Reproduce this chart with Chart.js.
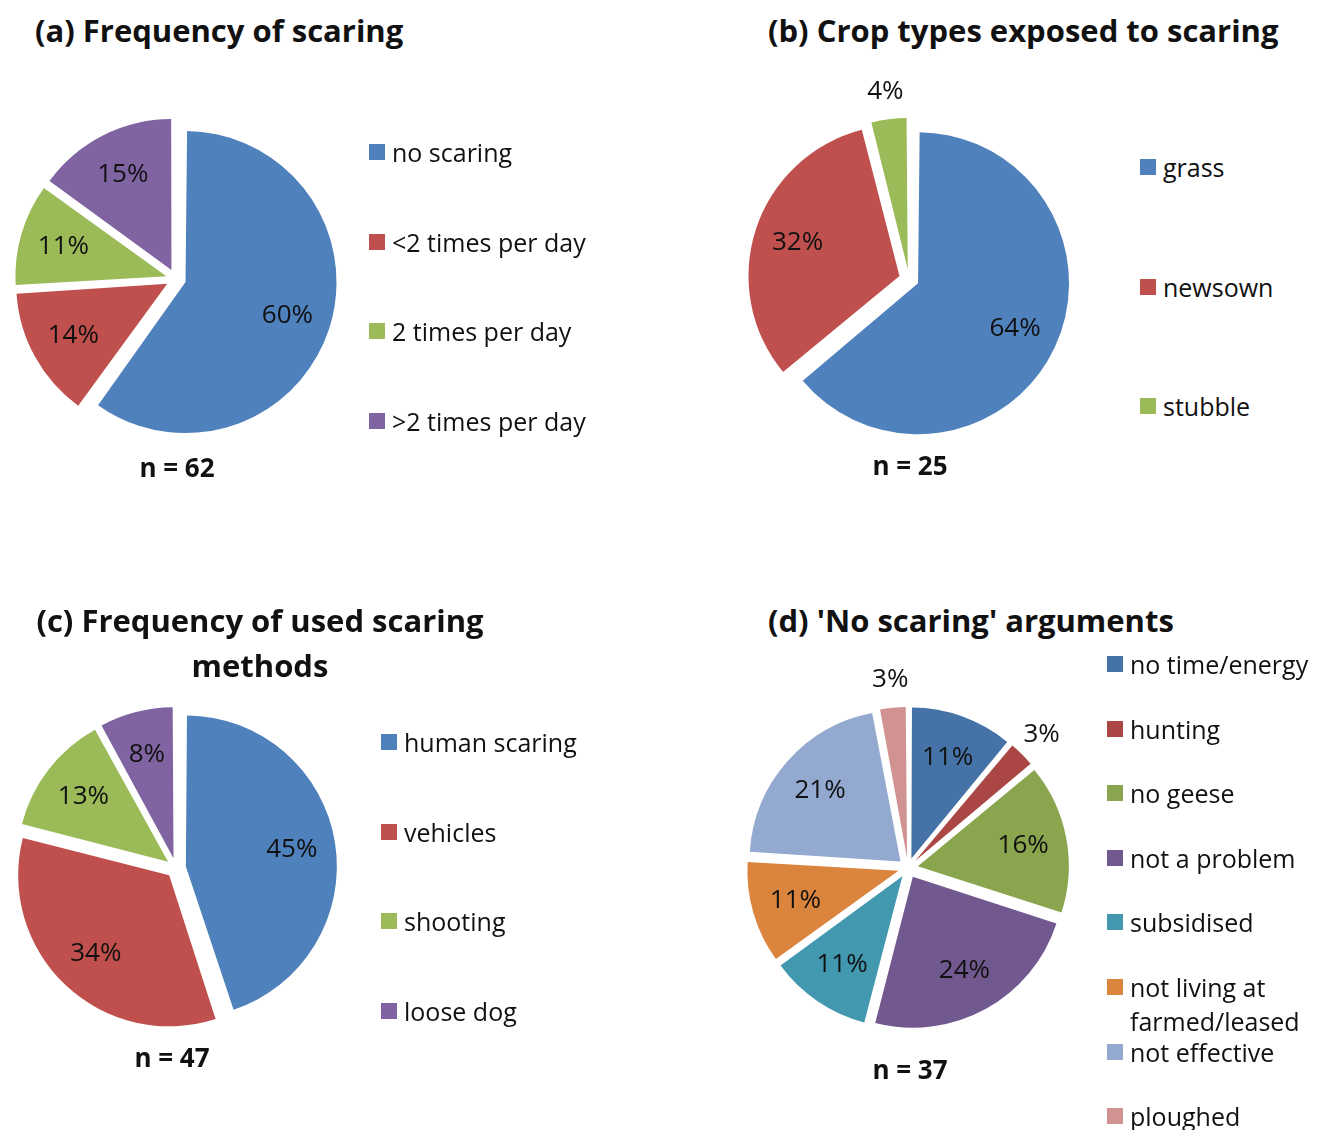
<!DOCTYPE html>
<html>
<head>
<meta charset="utf-8">
<script src="https://cdn.jsdelivr.net/npm/chart.js@4"></script>
<style>
html, body { margin: 0; padding: 0; background: #fff; }
body { width: 1330px; height: 1130px; overflow: hidden; position: relative;
       font-family: "Open Sans", Lato, sans-serif; color: #111; }
canvas { position: absolute; }
.title { position: absolute; font-weight: bold; font-size: 31px; line-height: 45px; white-space: nowrap; }
.n { position: absolute; font-weight: bold; font-size: 26px; width: 200px; text-align: center; line-height: 30px; }
.legend { position: absolute; }
.item { display: flex; align-items: flex-start; }
.box { width: 16px; height: 16px; margin-top: 9px; margin-right: 7px; flex: none; }
.item span { font-size: 25px; line-height: 34px; white-space: nowrap; }
</style>
</head>
<body>
<script>
const freqLabels = ['no scaring', '<2 times per day', '2 times per day', '>2 times per day'];
const freqValues = [60, 14, 11, 15];

const cropLabels = ['grass', 'newsown', 'stubble'];
const cropValues = [64, 32, 4];

const methodLabels = ['human scaring', 'vehicles', 'shooting', 'loose dog'];
const methodValues = [45, 34, 13, 8];

const argLabels = ['no time/energy', 'hunting', 'no geese', 'not a problem', 'subsidised',
    ['not living at', 'farmed/leased'], 'not effective', 'ploughed'];
const argValues = [11, 3, 16, 24, 11, 11, 21, 3];

const sampleSizes = [62, 25, 47, 37];

const officeColors = ['#4F81BD', '#C0504D', '#9BBB59', '#8064A2'];
const argColors = ['#4572A7', '#AA4643', '#89A54E', '#71588F', '#4198AF', '#DB843D', '#93A9CF', '#D19392'];

const EXPLODE = 10; // px each slice is pulled out (Chart.js v4 draws offset / 4)

// v4 also grows wide slices by the offset; shrink them back so all slices keep one radius
const evenExplode = {
    id: 'evenExplode',
    beforeDatasetsDraw(chart) {
        const meta = chart.getDatasetMeta(0);
        const R = meta.controller.outerRadius;
        meta.data.forEach(arc => {
            const c = arc.endAngle - arc.startAngle;
            arc.outerRadius = R - EXPLODE * (1 - Math.sin(Math.min(Math.PI, c)));
        });
    }
};

// percentage labels, small slices go outside
const pctLabels = {
    id: 'pctLabels',
    afterDatasetsDraw(chart) {
        const ctx = chart.ctx;
        const ds = chart.data.datasets[0];
        const meta = chart.getDatasetMeta(0);
        const R = meta.controller.outerRadius;
        const total = ds.data.reduce((a, b) => a + b, 0);
        ctx.save();
        ctx.font = '26px "Open Sans"';
        ctx.fillStyle = '#111';
        ctx.textAlign = 'center';
        ctx.textBaseline = 'middle';
        meta.data.forEach((arc, i) => {
            const mid = (arc.startAngle + arc.endAngle) / 2;
            const pct = Math.round(ds.data[i] / total * 100);
            const d = pct < 5 ? EXPLODE + R + 28 : EXPLODE + R * 0.71;
            ctx.fillText(pct + '%', arc.x + Math.cos(mid) * d, arc.y + Math.sin(mid) * d);
        });
        ctx.restore();
    }
};

function addText(cls, html, left, top, extra) {
    const el = document.createElement('div');
    el.className = cls;
    el.innerHTML = html;
    el.style.left = left + 'px';
    el.style.top = top + 'px';
    Object.assign(el.style, extra || {});
    document.body.appendChild(el);
}

function buildPanel(p) {
    const size = 420;
    const canvas = document.createElement('canvas');
    canvas.width = size;
    canvas.height = size;
    canvas.style.left = (p.cx - size / 2) + 'px';
    canvas.style.top = (p.cy - size / 2) + 'px';
    document.body.appendChild(canvas);

    new Chart(canvas.getContext('2d'), {
        type: 'pie',
        data: {
            labels: p.labels,
            datasets: [{
                data: p.values,
                backgroundColor: p.colors,
                borderWidth: 0,
                offset: EXPLODE * 4,
                hoverOffset: 0
            }]
        },
        options: {
            responsive: false,
            animation: false,
            devicePixelRatio: 1,
            radius: 151,
            events: [],
            plugins: { legend: { display: false }, tooltip: { enabled: false } }
        },
        plugins: [evenExplode, pctLabels]
    });

    const legend = document.createElement('div');
    legend.className = 'legend';
    legend.style.left = p.legendX + 'px';
    legend.style.top = (p.legendY - 17) + 'px';
    p.labels.forEach((lab, i) => {
        const item = document.createElement('div');
        item.className = 'item';
        item.style.height = p.legendGap + 'px';
        const box = document.createElement('div');
        box.className = 'box';
        box.style.background = p.colors[i];
        const span = document.createElement('span');
        (Array.isArray(lab) ? lab : [lab]).forEach((line, k) => {
            if (k) span.appendChild(document.createElement('br'));
            span.appendChild(document.createTextNode(line));
        });
        item.appendChild(box);
        item.appendChild(span);
        legend.appendChild(item);
    });
    document.body.appendChild(legend);

    addText('title', p.title, p.titleX, p.titleY, p.titleStyle);
    addText('n', 'n = ' + p.n, p.nX - 100, p.nY - 15);
}

buildPanel({ title: '(a) Frequency of scaring', titleX: 35, titleY: 8,
    labels: freqLabels, values: freqValues, colors: officeColors, n: sampleSizes[0],
    cx: 176, cy: 279, legendX: 369, legendY: 152, legendGap: 89.7, nX: 177, nY: 467 });

buildPanel({ title: '(b) Crop types exposed to scaring', titleX: 768, titleY: 8,
    labels: cropLabels, values: cropValues, colors: officeColors.slice(0, 3), n: sampleSizes[1],
    cx: 909, cy: 279, legendX: 1140, legendY: 167, legendGap: 119.5, nX: 910, nY: 465 });

buildPanel({ title: '(c) Frequency of used scaring<br>methods', titleX: 30, titleY: 598,
    titleStyle: { width: '460px', textAlign: 'center' },
    labels: methodLabels, values: methodValues, colors: officeColors, n: sampleSizes[2],
    cx: 176, cy: 868, legendX: 381, legendY: 742, legendGap: 89.7, nX: 172, nY: 1057 });

buildPanel({ title: '(d) \'No scaring\' arguments', titleX: 768, titleY: 598,
    labels: argLabels, values: argValues, colors: argColors, n: sampleSizes[3],
    cx: 908, cy: 868, legendX: 1107, legendY: 664, legendGap: 64.6, nX: 910, nY: 1069 });
</script>
</body>
</html>
